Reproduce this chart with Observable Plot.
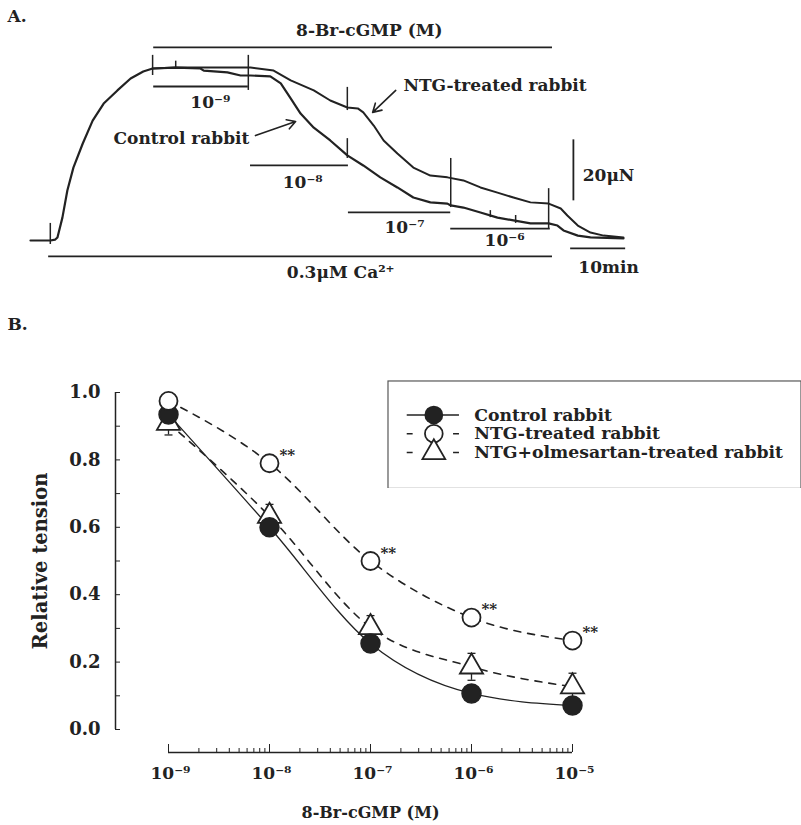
<!DOCTYPE html>
<html><head><meta charset="utf-8">
<script src="https://cdn.jsdelivr.net/npm/d3@7"></script>
<script src="https://cdn.jsdelivr.net/npm/@observablehq/plot@0.6"></script>
<style>
html,body{margin:0;padding:0;background:#fff;overflow:hidden;}
#wrap{position:relative;width:801px;height:825px;overflow:hidden;}
#panelA{position:absolute;left:0;top:0;}
#panelB{position:absolute;left:0;top:300px;}
#legend{position:absolute;left:387px;top:380px;}
</style></head><body>
<div id="wrap"><div id="panelA"></div><div id="panelB"></div><div id="legend"></div></div>
<script>
// ---------- Panel A: tension traces (time in min, tension in µN) ----------
const controlTrace = [[0,0],[3.6,0],[4.5,0.3],[4.9,1.0],[5.8,7.5],[6.7,16.4],[7.8,23.9],[9.5,31.8],[11.3,39.3],[13.3,44.9],[15.8,49.2],[18.2,53.1],[20.5,55.4],[22.2,56.4],[26.4,56.7],[30.9,56.4],[31.5,55.7],[35.8,55.1],[38.2,54.1],[40.0,54.1],[43.6,53.8],[45.5,51.5],[47.3,46.6],[49.1,41.6],[51.5,37.0],[54.5,32.8],[57.6,27.9],[60.5,24.6],[63.6,20.7],[66.7,17.4],[69.6,14.1],[72.7,12.5],[75.8,12.1],[76.4,11.5],[78.7,10.8],[81.8,9.2],[84.9,7.5],[87.8,6.6],[90.9,5.6],[94.2,5.6],[95.8,4.9],[96.9,3.3],[99.5,1.6],[101.8,1.0],[107.8,0.7]];
const ntgTrace = [[22.2,56.4],[26.4,56.7],[40.0,56.7],[44.2,55.7],[47.3,52.5],[51.5,49.2],[54.5,45.9],[57.6,43.6],[59.5,43.3],[60.5,42.0],[62.4,37.7],[64.2,32.8],[66.7,28.5],[69.6,23.9],[72.7,21.3],[75.8,20.7],[78.7,19.7],[81.8,17.4],[84.9,15.7],[87.8,14.1],[90.9,12.5],[94.2,12.1],[96.4,10.5],[97.6,8.2],[99.5,4.9],[101.8,2.6],[104.2,1.6],[107.8,1.0]];
// event markers: time, low, high (µN)
const eventTimes = [3.6, 22.2, 39.6, 57.6, 57.6, 76.4, 94.2, 26.4, 83.6, 88.2];
const eventLow   = [-1.3, 54.1, 49.2, 42.6, 26.9, 10.8, 3.9, 56.7, 7.5, 5.6];
const eventHigh  = [5.6, 60.7, 60.7, 50.2, 33.4, 26.9, 17.0, 58.8, 9.8, 8.2];
// application bars: start, end (min), level (µN)
const barStart = [22.4, 22.4, 40.0, 57.8, 76.4, 3.3, 98.2];
const barEnd   = [94.9, 39.6, 57.8, 76.4, 94.5, 94.9, 108.2];
const barLevel = [63.3, 50.5, 24.6, 9.2, 3.9, -5.2, -2.6];
// 20 µN scale bar
const scaleBarT = [98.7];
const scaleBarLow = [13];
const scaleBarHigh = [33];
// centred labels
const labelTextC = ["8-Br-cGMP (M)", "10⁻⁹", "10⁻⁸", "10⁻⁷", "10⁻⁶", "0.3μM Ca²⁺", "10min"];
const labelTC    = [61.6, 32.7, 49.5, 68.0, 86.2, 56.4, 105.1];
const labelVC    = [68.9, 45.2, 19.0, 4.3, 0.0, -10.5, -8.9];
// left-aligned labels
const labelTextL = ["NTG-treated rabbit", "Control rabbit", "20μN"];
const labelTL    = [67.8, 15.1, 100.4];
const labelVL    = [50.8, 33.4, 21.3];
// arrows
const arrowT1 = [66.4, 40.9], arrowV1 = [49.2, 34.4], arrowT2 = [62.2, 48.2], arrowV2 = [42.0, 39.0];

// ---------- Panel B: dose-response ----------
const conc = [1e-9, 1e-8, 1e-7, 1e-6, 1e-5];
const xTickLabels = ["10⁻⁹", "10⁻⁸", "10⁻⁷", "10⁻⁶", "10⁻⁵"];
const yTicksAll = [0, 0.1, 0.2, 0.3, 0.4, 0.5, 0.6, 0.7, 0.8, 0.9, 1.0];
const yTicksLabeled = [0, 0.2, 0.4, 0.6, 0.8, 1.0];
const seriesNames = ["Control rabbit", "NTG-treated rabbit", "NTG+olmesartan-treated rabbit"];
const controlMean = [0.935, 0.60, 0.255, 0.107, 0.071];
const controlSEM  = [0.02, 0.02, 0.02, 0.015, 0.015];
const ntgMean = [0.975, 0.79, 0.50, 0.332, 0.264];
const ntgSEM  = [0.02, 0.02, 0.02, 0.02, 0.02];
const olmMean = [0.909, 0.633, 0.303, 0.186, 0.127];
const olmSEM  = [0.035, 0.035, 0.035, 0.04, 0.04];
const ntgMarks = ["", "**", "**", "**", "**"];

const INK = "#222";
const FONT = "'DejaVu Serif', serif";

// ---- build Panel A ----
const ctrlRows = controlTrace.map(([t, v]) => ({t, v}));
const ntgRows = ntgTrace.map(([t, v]) => ({t, v}));
const events = eventTimes.map((t, i) => ({t, lo: eventLow[i], hi: eventHigh[i]}));
const bars = barStart.map((s, i) => ({t1: s, t2: barEnd[i], v: barLevel[i]}));
const scaleBars = scaleBarT.map((t, i) => ({t, lo: scaleBarLow[i], hi: scaleBarHigh[i]}));
const labelsC = labelTextC.map((s, i) => ({s, t: labelTC[i], v: labelVC[i]}));
const labelsL = labelTextL.map((s, i) => ({s, t: labelTL[i], v: labelVL[i]}));
const arrows = arrowT1.map((t, i) => ({t1: t, v1: arrowV1[i], t2: arrowT2[i], v2: arrowV2[i]}));

const plotA = Plot.plot({
  width: 801, height: 300, margin: 0,
  x: {domain: [0, 108.9], range: [30, 629], axis: null},
  y: {domain: [0, 60], range: [240, 57], axis: null},
  style: {fontFamily: FONT, fontWeight: "bold", color: INK, background: "transparent"},
  marks: [
    Plot.text(["A."], {frameAnchor: "top-left", dx: 7, dy: 9, textAnchor: "start", lineAnchor: "top", fontSize: 17}),
    Plot.ruleY(bars, {x1: "t1", x2: "t2", y: "v", stroke: INK, strokeWidth: 1.8}),
    Plot.ruleX(scaleBars, {x: "t", y1: "lo", y2: "hi", stroke: INK, strokeWidth: 1.8}),
    Plot.ruleX(events, {x: "t", y1: "lo", y2: "hi", stroke: INK, strokeWidth: 1.5}),
    Plot.line(ctrlRows, {x: "t", y: "v", stroke: INK, strokeWidth: 2.2}),
    Plot.line(ntgRows, {x: "t", y: "v", stroke: INK, strokeWidth: 2}),
    Plot.arrow(arrows, {x1: "t1", y1: "v1", x2: "t2", y2: "v2", stroke: INK, strokeWidth: 1.6, headLength: 9}),
    Plot.text(labelsC, {x: "t", y: "v", text: "s", fontSize: 17, fill: INK}),
    Plot.text(labelsL, {x: "t", y: "v", text: "s", textAnchor: "start", fontSize: 17, fill: INK})
  ]
});
document.getElementById("panelA").appendChild(plotA);

// ---- build Panel B ----
const mk = (name, mean, sem) => conc.map((c, i) => ({series: name, conc: c, value: mean[i], lo: mean[i] - sem[i], hi: mean[i] + sem[i], mark: name === seriesNames[1] ? ntgMarks[i] : ""}));
const ctrl = mk(seriesNames[0], controlMean, controlSEM);
const ntg = mk(seriesNames[1], ntgMean, ntgSEM);
const olm = mk(seriesNames[2], olmMean, olmSEM);
const all = [...ctrl, ...ntg, ...olm];
const capSymbol = {draw(ctx, size) { const w = Math.sqrt(size) / 2; ctx.moveTo(-w, 0); ctx.lineTo(w, 0); }};
const xLabel = d => {
  const k = conc.findIndex(c => Math.abs(Math.log10(c) - Math.log10(d)) < 0.01);
  return k < 0 ? "" : xTickLabels[k];
};

const plotB = Plot.plot({
  width: 801, height: 525,
  marginLeft: 115, marginRight: 0, marginTop: 60, marginBottom: 73,
  x: {type: "log", domain: [1e-9, 1e-5], range: [168, 572]},
  y: {domain: [0, 1], range: [429, 92]},
  style: {fontFamily: FONT, fontWeight: "bold", color: INK, background: "transparent"},
  marks: [
    Plot.text(["B."], {frameAnchor: "top-left", dx: -108, dy: -43, textAnchor: "start", lineAnchor: "top", fontSize: 17}),
    // y axis
    Plot.ruleX([1e-9], {y1: 0, y2: 1, dx: -53, stroke: INK, strokeWidth: 1.5}),
    Plot.axisY({ticks: yTicksAll, tickSize: -5, tickFormat: () => "", label: null, stroke: INK}),
    Plot.axisY({ticks: yTicksLabeled, tickSize: 0, tickPadding: 15, tickFormat: d => d.toFixed(1), label: null, fontSize: 18}),
    Plot.text(["Relative tension"], {x: 1e-9, y: 0.5, dx: -128, rotate: -90, fontSize: 19.5}),
    // x axis
    Plot.ruleY([0], {x1: 1e-9, x2: 1e-5, dy: 23, stroke: INK, strokeWidth: 1.5}),
    Plot.axisX({ticks: 40, tickSize: -4, tickFormat: () => "", label: null, stroke: INK}),
    Plot.axisX({ticks: conc, tickSize: -8, tickFormat: () => "", label: null, stroke: INK}),
    Plot.axisX({ticks: conc, tickSize: 0, tickPadding: 14, tickFormat: xLabel, label: null, fontSize: 17, dx: 2}),
    Plot.text(["8-Br-cGMP (M)"], {x: 1e-7, y: 0, dy: 83, fontSize: 16}),
    // error bars
    Plot.ruleX(all, {x: "conc", y1: "lo", y2: "hi", stroke: INK, strokeWidth: 1.3}),
    Plot.dot(all, {x: "conc", y: "lo", symbol: capSymbol, r: 4.5, stroke: INK, strokeWidth: 1.3}),
    Plot.dot(all, {x: "conc", y: "hi", symbol: capSymbol, r: 4.5, stroke: INK, strokeWidth: 1.3}),
    // fitted curves
    Plot.line(ctrl, {x: "conc", y: "value", curve: "monotone-x", stroke: INK, strokeWidth: 1.3}),
    Plot.line(ntg, {x: "conc", y: "value", curve: "monotone-x", stroke: INK, strokeWidth: 1.6, strokeDasharray: "7,7"}),
    Plot.line(olm, {x: "conc", y: "value", curve: "monotone-x", stroke: INK, strokeWidth: 1.6, strokeDasharray: "7,7"}),
    // markers
    Plot.dot(olm, {x: "conc", y: "value", symbol: "triangle", r: 8.6, fill: "white", stroke: INK, strokeWidth: 1.8}),
    Plot.dot(ctrl, {x: "conc", y: "value", symbol: "circle", r: 9.5, fill: INK, stroke: INK}),
    Plot.dot(ntg, {x: "conc", y: "value", symbol: "circle", r: 9, fill: "white", stroke: INK, strokeWidth: 1.8}),
    Plot.text(ntg, {x: "conc", y: "value", text: "mark", dx: 10, dy: -8, textAnchor: "start", fontSize: 15})
  ]
});
document.getElementById("panelB").appendChild(plotB);

// ---- legend ----
const legendPlot = Plot.plot({
  width: 420, height: 110, margin: 0,
  y: {type: "point", domain: seriesNames, range: [25, 83], axis: null},
  style: {fontFamily: FONT, fontWeight: "bold", color: INK, background: "white"},
  marks: [
    Plot.frame({stroke: "#555", strokeWidth: 1.2, inset: 0.5}),
    Plot.ruleY([seriesNames[0]], {y: d => d, insetLeft: 20, insetRight: 420 - 73, stroke: INK, strokeWidth: 1.3}),
    Plot.ruleY([seriesNames[1], seriesNames[2]], {y: d => d, insetLeft: 20, insetRight: 420 - 73, stroke: INK, strokeWidth: 1.5, strokeDasharray: "6,41,6"}),
    Plot.dot([seriesNames[0]], {y: d => d, frameAnchor: "left", dx: 47, symbol: "circle", r: 9.5, fill: INK}),
    Plot.dot([seriesNames[1]], {y: d => d, frameAnchor: "left", dx: 47, symbol: "circle", r: 9, fill: "white", stroke: INK, strokeWidth: 1.8}),
    Plot.dot([seriesNames[2]], {y: d => d, frameAnchor: "left", dx: 47, symbol: "triangle", r: 8.6, fill: "white", stroke: INK, strokeWidth: 1.8}),
    Plot.text(seriesNames, {y: d => d, frameAnchor: "left", dx: 88, textAnchor: "start", fontSize: 17.5})
  ]
});
document.getElementById("legend").appendChild(legendPlot);
</script></body></html>
